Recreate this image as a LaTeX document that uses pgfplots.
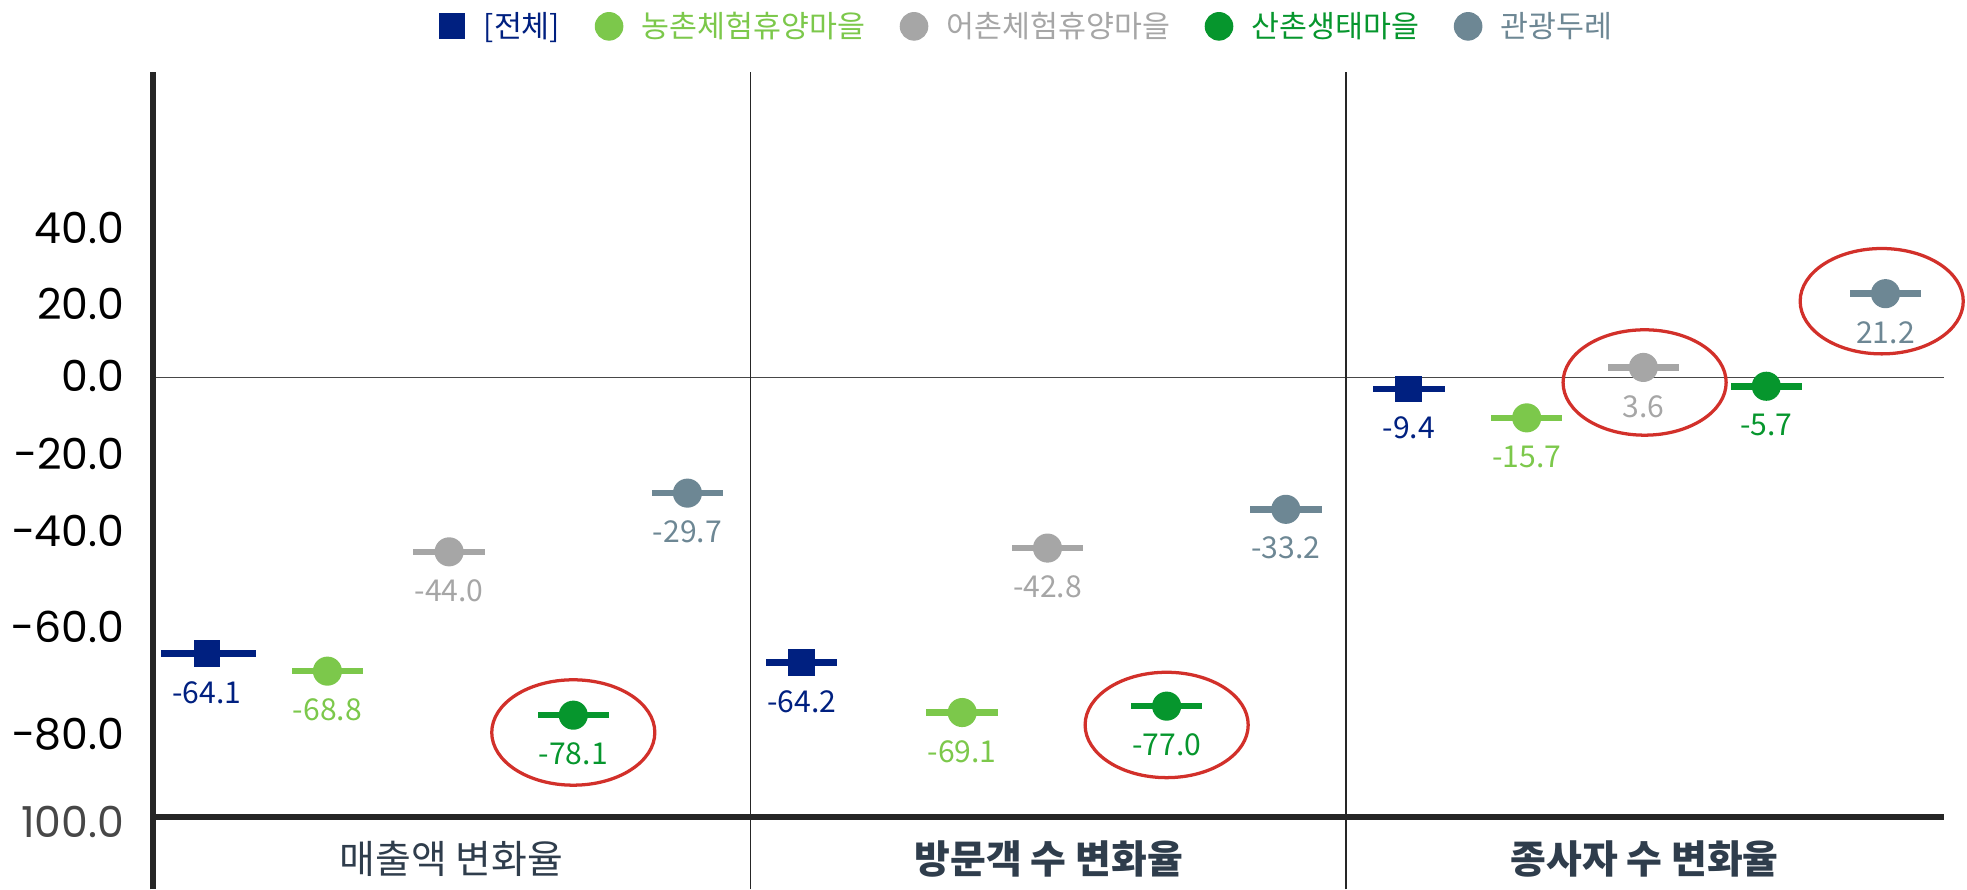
\documentclass[border=0pt]{standalone}
\usepackage{fontspec}
\setmainfont{Noto Sans CJK KR}
\newfontfamily\tickfont{Poppins}
\usepackage{pgfplots}
\pgfplotsset{compat=1.18}

\definecolor{navy}{HTML}{002080}
\definecolor{lgreen}{HTML}{7CC84B}
\definecolor{lgray}{HTML}{A6A6A6}
\definecolor{dgreen}{HTML}{06962D}
\definecolor{slate}{HTML}{6D8794}
\definecolor{ringred}{HTML}{D2302A}
\definecolor{axisdark}{HTML}{262626}
\definecolor{catcol}{HTML}{2F3D4C}

% marker with a horizontal bar through it
\pgfdeclareplotmark{dotbar}{%
  \pgfpathrectangle{\pgfqpoint{-14.25pt}{-1.3pt}}{\pgfqpoint{28.5pt}{2.6pt}}\pgfusepathqfill
  \pgfpathcircle{\pgfpointorigin}{5.8pt}\pgfusepathqfill}
\pgfdeclareplotmark{sqbar}{%
  \pgfpathrectangle{\pgfqpoint{-14.25pt}{-1.3pt}}{\pgfqpoint{28.5pt}{2.6pt}}\pgfusepathqfill
  \pgfpathrectangle{\pgfqpoint{-5.3pt}{-5.3pt}}{\pgfqpoint{10.6pt}{10.6pt}}\pgfusepathqfill}
\pgfdeclareplotmark{sqbarwide}{%
  \pgfpathrectangle{\pgfqpoint{-18.5pt}{-1.3pt}}{\pgfqpoint{38pt}{2.6pt}}\pgfusepathqfill
  \pgfpathrectangle{\pgfqpoint{-5.3pt}{-5.3pt}}{\pgfqpoint{10.6pt}{10.6pt}}\pgfusepathqfill}
\pgfdeclareplotmark{ring}{%
  \pgfpathellipse{\pgfpointorigin}{\pgfqpoint{32.5pt}{0pt}}{\pgfqpoint{0pt}{21pt}}\pgfusepathqstroke}

\pgfplotsset{
  lbl/.style={nodes near coords, point meta=explicit symbolic,
    every node near coord/.append style={anchor=center, yshift=-15.5pt,
      font=\fontsize{12}{12}\selectfont, text=#1}},
}

\begin{document}
\begin{tikzpicture}
\path[use as bounding box] (0,0) rectangle (784pt,354.5pt);
\begin{axis}[
  at={(61pt,0pt)}, anchor=south west,
  scale only axis, width=714pt, height=326pt,
  xmin=122, xmax=1550, ymin=-136, ymax=81.33,
  clip=false,
  axis lines=left,
  axis line style={-},
  y axis line style={line width=2.75pt, draw=axisdark},
  x axis line style={draw=none},
  major tick length=0pt, minor tick length=0pt,
  ytick={39.67,19.67,0.33,-20.33,-40.67,-66.33,-94.67,-118},
  yticklabels={40.0,20.0,0.0,−20.0,−40.0,−60.0,−80.0,\textcolor{axisdark!85}{100.0}},
  yticklabel style={font=\tickfont\fontsize{17}{17}\selectfont, anchor=east, xshift=-8pt},
  xtick={360,836,1311},
  xticklabels={매출액 변화율,\textbf{방문객 수 변화율},\textbf{종사자 수 변화율}},
  xticklabel style={font=\fontsize{15.5}{17}\selectfont, text=catcol, anchor=center, yshift=12pt},
  extra x ticks={598,1073}, extra x tick labels={},
  extra x tick style={grid=major, major grid style={draw=axisdark, line width=0.5pt}},
  extra y ticks={-116.67}, extra y tick labels={},
  extra y tick style={grid=major, major grid style={draw=axisdark, line width=2.5pt}},
  minor ytick={0}, yminorgrids=true, minor grid style={draw=axisdark!85, line width=0.55pt},
  legend columns=5,
  legend style={at={(0.5,1)}, anchor=south, yshift=8pt, xshift=-8pt, draw=none,
    font=\fontsize{12.1}{14}\selectfont,
    /tikz/every odd column/.append style={column sep=5.5pt},
    /tikz/every even column/.append style={column sep=12pt}},
]
\addlegendimage{only marks, mark=square*, mark size=5pt, navy}
\addlegendentry{\textcolor{navy}{[전체]}}
\addlegendimage{only marks, mark=*, mark size=5.5pt, lgreen}
\addlegendentry{\textcolor{lgreen}{농촌체험휴양마을}}
\addlegendimage{only marks, mark=*, mark size=5.5pt, lgray}
\addlegendentry{\textcolor{lgray}{어촌체험휴양마을}}
\addlegendimage{only marks, mark=*, mark size=5.5pt, dgreen}
\addlegendentry{\textcolor{dgreen}{산촌생태마을}}
\addlegendimage{only marks, mark=*, mark size=5.5pt, slate}
\addlegendentry{\textcolor{slate}{관광두레}}

% [전체]
\addplot[only marks, mark=sqbarwide, navy, lbl=navy, forget plot]
  coordinates {(165,-73.3) [-64.1]};
\addplot[only marks, mark=sqbar, navy, lbl=navy, forget plot]
  coordinates {(639,-75.7) [-64.2] (1123,-3.0) [-9.4]};
% 농촌체험휴양마을
\addplot[only marks, mark=dotbar, lgreen, lbl=lgreen, forget plot]
  coordinates {(261,-78.0) [-68.8] (767,-89.0) [-69.1] (1217,-10.7) [-15.7]};
% 어촌체험휴양마을
\addplot[only marks, mark=dotbar, lgray, lbl=lgray, forget plot]
  coordinates {(358,-46.3) [-44.0] (835,-45.3) [-42.8] (1310,2.7) [3.6]};
% 산촌생태마을
\addplot[only marks, mark=dotbar, dgreen, lbl=dgreen, forget plot]
  coordinates {(457,-89.7) [-78.1] (930,-87.3) [-77.0] (1408,-2.3) [-5.7]};
% 관광두레
\addplot[only marks, mark=dotbar, slate, lbl=slate, forget plot]
  coordinates {(548,-30.7) [-29.7] (1025,-35.0) [-33.2] (1503,22.3) [21.2]};
% highlight rings
\addplot[only marks, mark=ring, ringred, line width=1.3pt, forget plot]
  coordinates {(457,-94.3) (930,-92.3) (1311,-1.3) (1500,20.3)};
\end{axis}
\end{tikzpicture}
\end{document}
